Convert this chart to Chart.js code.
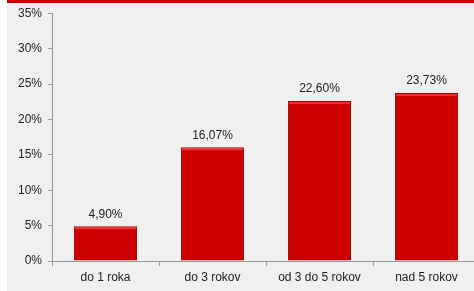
<!DOCTYPE html>
<html>
<head>
<meta charset="utf-8">
<script src="https://cdn.jsdelivr.net/npm/chart.js@4"></script>
<style>
  html, body { margin: 0; padding: 0; background: #fff; overflow: hidden; }
  #panel { position: absolute; left: 7px; top: 0; width: 467px; height: 291px; background: #f0f0f0; }
  #banner { position: absolute; left: 7px; top: 0; width: 467px; height: 3px; background: #cc0000; }
  #wrap { position: absolute; left: 0; top: 0; width: 482px; height: 291px; }
</style>
</head>
<body>
<div id="panel"></div>
<div id="banner"></div>
<div id="wrap"><canvas id="chart"></canvas></div>
<script>
// categories and values (percent)
const categories = ['do 1 roka', 'do 3 rokov', 'od 3 do 5 rokov', 'nad 5 rokov'];
const values = [4.90, 16.07, 22.60, 23.73];
const yTicks = [0, 5, 10, 15, 20, 25, 30, 35];

const fontFamily = '"Liberation Sans", Arial, sans-serif';

// value labels above the bars + small bevel highlight on top
const barLabels = {
    id: 'barLabels',
    afterDatasetsDraw(chart) {
        const ctx = chart.ctx;
        const meta = chart.getDatasetMeta(0);
        ctx.save();
        meta.data.forEach((bar, i) => {
            const w = bar.width;
            // top highlight
            ctx.fillStyle = 'rgba(255,90,90,0.55)';
            ctx.fillRect(bar.x - w / 2 + 1, bar.y + 1, w - 2, 2);
            ctx.fillStyle = '#222';
            ctx.font = '12px ' + fontFamily;
            ctx.textAlign = 'center';
            ctx.textBaseline = 'bottom';
            ctx.fillText(values[i].toFixed(2).replace('.', ',') + '%', bar.x, bar.y - 6);
        });
        ctx.restore();
    }
};

new Chart(document.getElementById('chart'), {
    type: 'bar',
    data: {
        labels: categories,
        datasets: [{
            data: values,
            backgroundColor: '#cc0000',
            borderColor: '#9a0000',
            borderWidth: 1,
            borderSkipped: 'bottom',
            barPercentage: 0.59,
            categoryPercentage: 1.0
        }]
    },
    options: {
        responsive: true,
        maintainAspectRatio: false,
        animation: false,
        layout: { padding: { top: 11, right: 2, left: 0, bottom: 0 } },
        plugins: { legend: { display: false }, tooltip: { enabled: false } },
        scales: {
            x: {
                grid: { display: true, offset: true, drawOnChartArea: false, tickLength: 5, color: '#999' },
                border: { color: '#999' },
                ticks: { color: '#222', font: { family: fontFamily, size: 12 }, padding: 4, maxRotation: 0 },
                afterFit(scale) { scale.height = 30; }
            },
            y: {
                min: 0,
                max: 35,
                afterBuildTicks(scale) { scale.ticks = yTicks.map(v => ({ value: v })); },
                grid: { display: true, drawOnChartArea: false, tickLength: 4, color: '#999' },
                border: { color: '#999' },
                ticks: {
                    color: '#222',
                    font: { family: fontFamily, size: 12 },
                    padding: 6,
                    callback: v => v + '%'
                },
                afterFit(scale) { scale.width = 52; }
            }
        }
    },
    plugins: [barLabels]
});
</script>
</body>
</html>
